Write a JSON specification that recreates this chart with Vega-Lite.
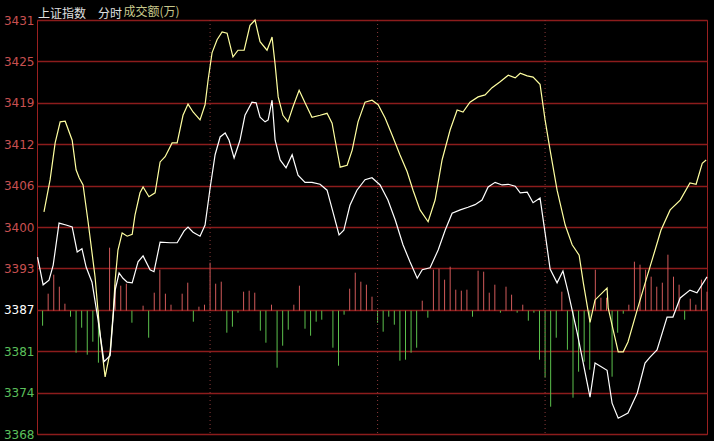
{
  "$schema": "https://vega.github.io/schema/vega-lite/v6.json",
  "width": 670,
  "height": 414,
  "autosize": {"type": "none"},
  "padding": {"left": 37, "top": 20, "right": 7, "bottom": 7},
  "background": "#000000",
  "config": {"view": {"stroke": "#9a2020", "strokeWidth": 1}},
  "title": {"text": "上证指数\u3000分时", "anchor": "start", "frame": "group", "offset": 0, "dy": 16, "fontSize": 12, "font": "Noto Sans CJK SC", "fontWeight": "normal", "color": "#e0e0e0", "dx": 1},
  "datasets": {
    "lines": [
      {"s": "yellow", "t": 0.5, "p": 3401.9}, {"s": "yellow", "t": 2.7, "p": 3406.8}, {"s": "yellow", "t": 4.5, "p": 3412.4}, {"s": "yellow", "t": 6.3, "p": 3415.6}, {"s": "yellow", "t": 8.1, "p": 3415.7}, {"s": "yellow", "t": 10.6, "p": 3412.8}, {"s": "yellow", "t": 12.0, "p": 3408.3}, {"s": "yellow", "t": 13.1, "p": 3407.1}, {"s": "yellow", "t": 14.5, "p": 3406.0}, {"s": "yellow", "t": 16.3, "p": 3400.4}, {"s": "yellow", "t": 18.8, "p": 3392.0}, {"s": "yellow", "t": 20.6, "p": 3383.2}, {"s": "yellow", "t": 22.4, "p": 3376.8}, {"s": "yellow", "t": 24.2, "p": 3380.6}, {"s": "yellow", "t": 25.3, "p": 3386.5}, {"s": "yellow", "t": 26.0, "p": 3391.5}, {"s": "yellow", "t": 27.0, "p": 3396.1}, {"s": "yellow", "t": 28.5, "p": 3398.7}, {"s": "yellow", "t": 30.3, "p": 3398.2}, {"s": "yellow", "t": 32.1, "p": 3398.5}, {"s": "yellow", "t": 33.1, "p": 3401.4}, {"s": "yellow", "t": 34.9, "p": 3404.8}, {"s": "yellow", "t": 36.0, "p": 3405.7}, {"s": "yellow", "t": 38.1, "p": 3404.2}, {"s": "yellow", "t": 40.3, "p": 3404.8}, {"s": "yellow", "t": 42.1, "p": 3409.5}, {"s": "yellow", "t": 43.9, "p": 3410.3}, {"s": "yellow", "t": 46.4, "p": 3412.4}, {"s": "yellow", "t": 48.2, "p": 3412.4}, {"s": "yellow", "t": 50.3, "p": 3416.6}, {"s": "yellow", "t": 52.1, "p": 3418.3}, {"s": "yellow", "t": 53.9, "p": 3417.1}, {"s": "yellow", "t": 56.4, "p": 3415.9}, {"s": "yellow", "t": 58.2, "p": 3418.2}, {"s": "yellow", "t": 59.3, "p": 3422.0}, {"s": "yellow", "t": 60.7, "p": 3426.1}, {"s": "yellow", "t": 62.5, "p": 3428.1}, {"s": "yellow", "t": 64.3, "p": 3429.3}, {"s": "yellow", "t": 66.1, "p": 3429.1}, {"s": "yellow", "t": 68.2, "p": 3425.5}, {"s": "yellow", "t": 70.0, "p": 3426.5}, {"s": "yellow", "t": 72.2, "p": 3426.5}, {"s": "yellow", "t": 74.3, "p": 3430.3}, {"s": "yellow", "t": 76.1, "p": 3431.1}, {"s": "yellow", "t": 77.9, "p": 3427.8}, {"s": "yellow", "t": 80.4, "p": 3426.5}, {"s": "yellow", "t": 82.2, "p": 3428.5}, {"s": "yellow", "t": 83.3, "p": 3424.3}, {"s": "yellow", "t": 84.4, "p": 3419.4}, {"s": "yellow", "t": 86.1, "p": 3416.6}, {"s": "yellow", "t": 87.9, "p": 3415.6}, {"s": "yellow", "t": 89.7, "p": 3417.9}, {"s": "yellow", "t": 91.9, "p": 3420.4}, {"s": "yellow", "t": 94.0, "p": 3418.5}, {"s": "yellow", "t": 96.5, "p": 3416.3}, {"s": "yellow", "t": 99.4, "p": 3416.6}, {"s": "yellow", "t": 101.9, "p": 3416.9}, {"s": "yellow", "t": 103.7, "p": 3415.4}, {"s": "yellow", "t": 104.8, "p": 3412.8}, {"s": "yellow", "t": 106.6, "p": 3408.7}, {"s": "yellow", "t": 109.1, "p": 3409.0}, {"s": "yellow", "t": 110.9, "p": 3411.3}, {"s": "yellow", "t": 113.0, "p": 3415.6}, {"s": "yellow", "t": 115.5, "p": 3418.6}, {"s": "yellow", "t": 118.0, "p": 3418.9}, {"s": "yellow", "t": 120.2, "p": 3418.2}, {"s": "yellow", "t": 122.7, "p": 3416.2}, {"s": "yellow", "t": 125.2, "p": 3413.6}, {"s": "yellow", "t": 128.0, "p": 3410.6}, {"s": "yellow", "t": 130.6, "p": 3408.0}, {"s": "yellow", "t": 132.7, "p": 3405.2}, {"s": "yellow", "t": 135.2, "p": 3402.2}, {"s": "yellow", "t": 138.1, "p": 3400.4}, {"s": "yellow", "t": 140.6, "p": 3403.7}, {"s": "yellow", "t": 143.1, "p": 3409.8}, {"s": "yellow", "t": 146.0, "p": 3414.4}, {"s": "yellow", "t": 148.5, "p": 3417.4}, {"s": "yellow", "t": 150.6, "p": 3417.1}, {"s": "yellow", "t": 153.1, "p": 3418.6}, {"s": "yellow", "t": 156.0, "p": 3419.4}, {"s": "yellow", "t": 158.5, "p": 3419.7}, {"s": "yellow", "t": 161.0, "p": 3420.8}, {"s": "yellow", "t": 163.9, "p": 3421.7}, {"s": "yellow", "t": 166.8, "p": 3422.7}, {"s": "yellow", "t": 169.3, "p": 3422.3}, {"s": "yellow", "t": 171.1, "p": 3423.0}, {"s": "yellow", "t": 173.6, "p": 3422.6}, {"s": "yellow", "t": 175.7, "p": 3422.4}, {"s": "yellow", "t": 178.2, "p": 3421.3}, {"s": "yellow", "t": 180.0, "p": 3415.9}, {"s": "yellow", "t": 181.8, "p": 3411.3}, {"s": "yellow", "t": 184.3, "p": 3405.2}, {"s": "yellow", "t": 187.2, "p": 3399.9}, {"s": "yellow", "t": 189.7, "p": 3396.9}, {"s": "yellow", "t": 192.2, "p": 3395.3}, {"s": "yellow", "t": 193.7, "p": 3391.1}, {"s": "yellow", "t": 196.1, "p": 3385.1}, {"s": "yellow", "t": 197.9, "p": 3388.5}, {"s": "yellow", "t": 202.2, "p": 3390.3}, {"s": "yellow", "t": 202.6, "p": 3387.3}, {"s": "yellow", "t": 204.4, "p": 3383.9}, {"s": "yellow", "t": 206.2, "p": 3380.6}, {"s": "yellow", "t": 208.0, "p": 3380.6}, {"s": "yellow", "t": 209.7, "p": 3382.1}, {"s": "yellow", "t": 213.0, "p": 3387.0}, {"s": "yellow", "t": 216.5, "p": 3392.0}, {"s": "yellow", "t": 219.4, "p": 3396.1}, {"s": "yellow", "t": 221.5, "p": 3399.1}, {"s": "yellow", "t": 224.8, "p": 3402.2}, {"s": "yellow", "t": 228.4, "p": 3403.7}, {"s": "yellow", "t": 231.9, "p": 3406.3}, {"s": "yellow", "t": 234.1, "p": 3406.1}, {"s": "yellow", "t": 236.3, "p": 3409.3}, {"s": "yellow", "t": 237.7, "p": 3409.8},
      {"s": "white", "t": -1.8, "p": 3395.0}, {"s": "white", "t": 0.2, "p": 3390.8}, {"s": "white", "t": 2.3, "p": 3391.5}, {"s": "white", "t": 3.8, "p": 3393.8}, {"s": "white", "t": 5.9, "p": 3400.2}, {"s": "white", "t": 8.4, "p": 3399.9}, {"s": "white", "t": 10.6, "p": 3399.6}, {"s": "white", "t": 12.4, "p": 3395.8}, {"s": "white", "t": 14.1, "p": 3396.3}, {"s": "white", "t": 15.6, "p": 3393.5}, {"s": "white", "t": 17.7, "p": 3391.2}, {"s": "white", "t": 19.9, "p": 3385.4}, {"s": "white", "t": 22.0, "p": 3379.1}, {"s": "white", "t": 24.2, "p": 3380.0}, {"s": "white", "t": 26.0, "p": 3390.0}, {"s": "white", "t": 27.4, "p": 3392.6}, {"s": "white", "t": 28.8, "p": 3391.8}, {"s": "white", "t": 30.3, "p": 3391.2}, {"s": "white", "t": 32.1, "p": 3391.1}, {"s": "white", "t": 34.2, "p": 3394.3}, {"s": "white", "t": 36.0, "p": 3395.2}, {"s": "white", "t": 38.5, "p": 3393.1}, {"s": "white", "t": 39.9, "p": 3392.8}, {"s": "white", "t": 42.1, "p": 3397.3}, {"s": "white", "t": 45.7, "p": 3397.2}, {"s": "white", "t": 48.2, "p": 3397.2}, {"s": "white", "t": 50.7, "p": 3399.0}, {"s": "white", "t": 52.1, "p": 3399.6}, {"s": "white", "t": 53.9, "p": 3398.8}, {"s": "white", "t": 56.4, "p": 3398.2}, {"s": "white", "t": 58.2, "p": 3399.9}, {"s": "white", "t": 60.0, "p": 3405.5}, {"s": "white", "t": 61.8, "p": 3410.6}, {"s": "white", "t": 63.6, "p": 3413.3}, {"s": "white", "t": 65.4, "p": 3413.9}, {"s": "white", "t": 66.8, "p": 3412.8}, {"s": "white", "t": 68.6, "p": 3410.1}, {"s": "white", "t": 70.7, "p": 3412.8}, {"s": "white", "t": 72.5, "p": 3416.6}, {"s": "white", "t": 75.0, "p": 3418.6}, {"s": "white", "t": 76.5, "p": 3418.5}, {"s": "white", "t": 77.9, "p": 3416.3}, {"s": "white", "t": 79.7, "p": 3415.6}, {"s": "white", "t": 80.8, "p": 3415.9}, {"s": "white", "t": 82.2, "p": 3418.9}, {"s": "white", "t": 83.3, "p": 3412.8}, {"s": "white", "t": 85.1, "p": 3409.8}, {"s": "white", "t": 87.2, "p": 3408.6}, {"s": "white", "t": 89.4, "p": 3410.6}, {"s": "white", "t": 91.5, "p": 3407.5}, {"s": "white", "t": 94.0, "p": 3406.4}, {"s": "white", "t": 96.5, "p": 3406.4}, {"s": "white", "t": 99.4, "p": 3406.1}, {"s": "white", "t": 101.9, "p": 3405.2}, {"s": "white", "t": 104.0, "p": 3401.9}, {"s": "white", "t": 106.2, "p": 3398.4}, {"s": "white", "t": 107.9, "p": 3399.1}, {"s": "white", "t": 110.1, "p": 3402.9}, {"s": "white", "t": 112.6, "p": 3405.2}, {"s": "white", "t": 115.5, "p": 3406.8}, {"s": "white", "t": 118.0, "p": 3407.1}, {"s": "white", "t": 120.9, "p": 3406.0}, {"s": "white", "t": 123.7, "p": 3403.7}, {"s": "white", "t": 126.3, "p": 3400.7}, {"s": "white", "t": 129.1, "p": 3396.9}, {"s": "white", "t": 131.6, "p": 3394.3}, {"s": "white", "t": 134.2, "p": 3391.8}, {"s": "white", "t": 136.0, "p": 3393.1}, {"s": "white", "t": 138.8, "p": 3393.4}, {"s": "white", "t": 141.7, "p": 3396.1}, {"s": "white", "t": 144.2, "p": 3399.1}, {"s": "white", "t": 146.7, "p": 3401.7}, {"s": "white", "t": 149.6, "p": 3402.2}, {"s": "white", "t": 152.4, "p": 3402.6}, {"s": "white", "t": 154.9, "p": 3403.0}, {"s": "white", "t": 157.4, "p": 3403.7}, {"s": "white", "t": 159.6, "p": 3405.7}, {"s": "white", "t": 162.1, "p": 3406.4}, {"s": "white", "t": 164.6, "p": 3406.0}, {"s": "white", "t": 166.8, "p": 3406.1}, {"s": "white", "t": 169.3, "p": 3405.8}, {"s": "white", "t": 171.1, "p": 3404.8}, {"s": "white", "t": 173.6, "p": 3404.9}, {"s": "white", "t": 175.7, "p": 3403.3}, {"s": "white", "t": 178.2, "p": 3404.0}, {"s": "white", "t": 180.0, "p": 3398.7}, {"s": "white", "t": 181.8, "p": 3393.2}, {"s": "white", "t": 184.3, "p": 3391.1}, {"s": "white", "t": 186.4, "p": 3392.9}, {"s": "white", "t": 188.3, "p": 3389.6}, {"s": "white", "t": 191.5, "p": 3383.5}, {"s": "white", "t": 196.1, "p": 3373.7}, {"s": "white", "t": 197.9, "p": 3378.9}, {"s": "white", "t": 202.2, "p": 3377.8}, {"s": "white", "t": 204.0, "p": 3372.8}, {"s": "white", "t": 206.2, "p": 3370.5}, {"s": "white", "t": 209.7, "p": 3371.3}, {"s": "white", "t": 213.0, "p": 3374.3}, {"s": "white", "t": 215.8, "p": 3378.9}, {"s": "white", "t": 217.6, "p": 3379.8}, {"s": "white", "t": 220.1, "p": 3380.9}, {"s": "white", "t": 223.7, "p": 3385.9}, {"s": "white", "t": 225.8, "p": 3385.9}, {"s": "white", "t": 228.4, "p": 3388.8}, {"s": "white", "t": 231.9, "p": 3390.0}, {"s": "white", "t": 234.4, "p": 3389.6}, {"s": "white", "t": 238.0, "p": 3392.0}
    ],
    "bars": [
      {"t": 0, "v": -15}, {"t": 2, "v": 17}, {"t": 4, "v": 36}, {"t": 6, "v": 24}, {"t": 8, "v": 7}, {"t": 10, "v": -6}, {"t": 12, "v": -42}, {"t": 14, "v": -17}, {"t": 16, "v": -44}, {"t": 18, "v": -31}, {"t": 20, "v": -52}, {"t": 24, "v": 63}, {"t": 26, "v": 26}, {"t": 28, "v": 25}, {"t": 30, "v": 27}, {"t": 32, "v": -12}, {"t": 36, "v": 5}, {"t": 38, "v": -27}, {"t": 40, "v": 18}, {"t": 42, "v": 41}, {"t": 44, "v": 17}, {"t": 46, "v": 6}, {"t": 50, "v": 17}, {"t": 52, "v": 28}, {"t": 54, "v": -11}, {"t": 56, "v": 4},
      {"t": 58, "v": 6}, {"t": 60, "v": 48}, {"t": 62, "v": 27}, {"t": 64, "v": 29}, {"t": 66, "v": -22}, {"t": 68, "v": -16}, {"t": 70, "v": -2}, {"t": 72, "v": 19}, {"t": 74, "v": 20}, {"t": 76, "v": 18}, {"t": 78, "v": -20}, {"t": 80, "v": -32}, {"t": 82, "v": 6}, {"t": 84, "v": -57}, {"t": 86, "v": -35}, {"t": 88, "v": -19}, {"t": 90, "v": 6}, {"t": 92, "v": 25}, {"t": 94, "v": -18}, {"t": 96, "v": -25}, {"t": 98, "v": -11}, {"t": 100, "v": -9}, {"t": 104, "v": -37}, {"t": 106, "v": -55}, {"t": 108, "v": -4}, {"t": 110, "v": 22}, {"t": 112, "v": 38}, {"t": 114, "v": 29}, {"t": 116, "v": 26}, {"t": 118, "v": 14},
      {"t": 120, "v": -12}, {"t": 122, "v": -21}, {"t": 124, "v": -6}, {"t": 126, "v": -14}, {"t": 128, "v": -50}, {"t": 130, "v": -49}, {"t": 132, "v": -42}, {"t": 134, "v": -37}, {"t": 136, "v": 10}, {"t": 138, "v": -7}, {"t": 140, "v": 41}, {"t": 142, "v": 42}, {"t": 144, "v": 31}, {"t": 146, "v": 44}, {"t": 148, "v": 21}, {"t": 150, "v": 20}, {"t": 152, "v": 21}, {"t": 154, "v": -6}, {"t": 156, "v": 40}, {"t": 158, "v": 39}, {"t": 160, "v": 18}, {"t": 162, "v": 26}, {"t": 164, "v": -2}, {"t": 166, "v": 24}, {"t": 168, "v": 16}, {"t": 170, "v": -2}, {"t": 172, "v": 6}, {"t": 174, "v": -10}, {"t": 176, "v": -2}, {"t": 178, "v": -49},
      {"t": 180, "v": -67}, {"t": 182, "v": -96}, {"t": 184, "v": -27}, {"t": 186, "v": 19}, {"t": 188, "v": -39}, {"t": 190, "v": -87}, {"t": 192, "v": -61}, {"t": 194, "v": -51}, {"t": 196, "v": -59}, {"t": 198, "v": 41}, {"t": 200, "v": 13}, {"t": 202, "v": 13}, {"t": 204, "v": -66}, {"t": 206, "v": -22}, {"t": 208, "v": -3}, {"t": 210, "v": 6}, {"t": 212, "v": 49}, {"t": 214, "v": 46}, {"t": 216, "v": 41}, {"t": 218, "v": 34}, {"t": 220, "v": 24}, {"t": 222, "v": 28}, {"t": 224, "v": 56}, {"t": 226, "v": 34}, {"t": 228, "v": 26}, {"t": 230, "v": -9}, {"t": 232, "v": 12}, {"t": 234, "v": 6}, {"t": 236, "v": 31}, {"t": 238, "v": 19}
    ],
    "guides": [{"t": 60}, {"t": 120}, {"t": 180}]
  },
  "encoding": {
    "x": {
      "field": "t", "type": "quantitative",
      "scale": {"domain": [-2, 238], "nice": false, "zero": false},
      "axis": {"orient": "top", "labels": false, "ticks": false, "domain": false, "grid": false, "title": "成交额(万)", "titleColor": "#c8c88c", "titleFont": "Noto Sans CJK SC", "titleFontSize": 12, "titleFontWeight": "normal", "titleAnchor": "start", "titleAlign": "left", "titleBaseline": "alphabetic", "titleX": 86, "titleY": -5}
    }
  },
  "layer": [
    {
      "data": {"name": "bars"},
      "mark": {"type": "rule", "strokeWidth": 1},
      "encoding": {
        "y": {"field": "v", "type": "quantitative", "scale": {"domain": [-123.3, 290.7], "nice": false, "zero": false}, "axis": null},
        "y2": {"datum": 0},
        "color": {"condition": {"test": "datum.v > 0", "value": "#d05a5a"}, "value": "#5cc04c"}
      }
    },
    {
      "data": {"name": "guides"},
      "mark": {"type": "rule", "strokeWidth": 1, "strokeDash": [1, 3], "color": "#8a3a3a"},
      "encoding": {}
    },
    {
      "layer": [
        {
          "mark": {"type": "rule", "color": "#e01818", "strokeWidth": 2},
          "encoding": {"y": {"datum": 3387, "type": "quantitative", "scale": {"domain": [3368.1, 3431.1], "nice": false, "zero": false}}}
        },
        {
          "data": {"name": "lines"},
          "mark": {"type": "line", "strokeWidth": 1.2, "interpolate": "linear"},
          "encoding": {
            "y": {
              "field": "p", "type": "quantitative",
              "scale": {"domain": [3368.1, 3431.1], "nice": false, "zero": false},
              "axis": {
                "values": [3368.1, 3374.4, 3380.7, 3387, 3393.3, 3399.6, 3405.9, 3412.2, 3418.5, 3424.8, 3431.1],
                "format": ".0f", "title": null, "ticks": false, "domain": false,
                "grid": true, "gridColor": "#8c1c1c", "gridWidth": 1.5,
                "labelFont": "DejaVu Sans", "labelFontSize": 12, "labelPadding": 3,
                "labelColor": {"condition": [{"test": "datum.value > 3387.5", "value": "#c85050"}, {"test": "datum.value > 3386.5", "value": "#ffffff"}], "value": "#5cc05c"}
              }
            },
            "color": {"field": "s", "type": "nominal", "scale": {"domain": ["white", "yellow"], "range": ["#ffffff", "#ffffa0"]}, "legend": null},
            "order": {"field": "t", "type": "quantitative"}
          }
        }
      ]
    }
  ],
  "resolve": {"scale": {"y": "independent"}}
}
